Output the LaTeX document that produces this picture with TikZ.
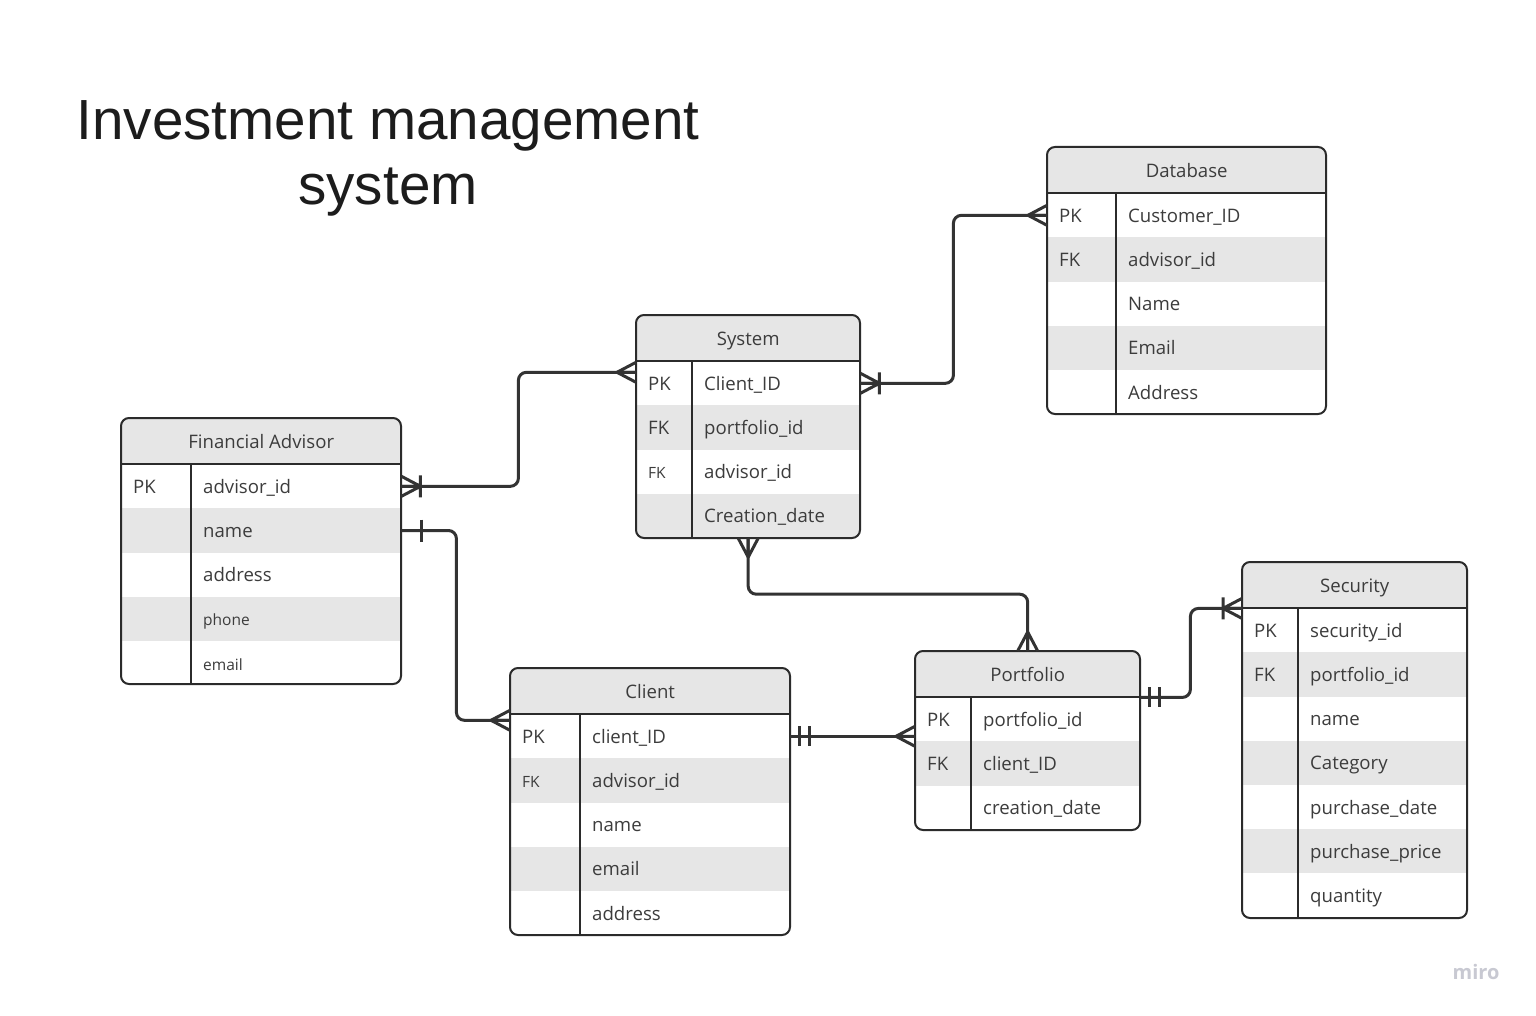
\documentclass[tikz,border=0pt]{standalone}
\usepackage{fontspec}
\setmainfont{Open Sans}
\newfontfamily\titlefont{Liberation Sans}

\definecolor{erline}{HTML}{333333}
\definecolor{erframe}{HTML}{2B2B2B}
\definecolor{rowgray}{HTML}{E6E6E6}
\definecolor{ertext}{HTML}{3C3C3C}
\definecolor{titleblack}{HTML}{1C1C1C}
\definecolor{mirogray}{HTML}{C8C9D2}

\newcommand{\smalltext}{\fontsize{15.5}{18}\selectfont}

\tikzset{
	frame line/.style={draw=erframe, line width=2pt},
	head box/.style={rectangle, fill=rowgray, minimum height=46pt, inner sep=0pt},
	row box/.style={rectangle, minimum height=44.2pt, inner sep=0pt},
	cell text/.style={anchor=base west, inner sep=0pt, text=ertext, font=\fontsize{18.6}{22}\selectfont},
	head text/.style={anchor=base, inner sep=0pt, text=ertext, font=\fontsize{18.6}{22}\selectfont},
	title text/.style={align=center, inner sep=0pt, text=titleblack, font=\titlefont\fontsize{56.6}{65}\selectfont},
	link/.style={draw=erline, line width=3pt, rounded corners=8pt},
	pics/crow foot/.style={code={\draw[link, sharp corners, line join=round] (0,-10) -- (19,0) -- (0,10) (0,0) -- (19,0);}},
	pics/crow bar/.style={code={\draw[link, sharp corners, line join=round] (0,-10) -- (19,0) -- (0,10) (0,0) -- (19,0) (19,-11) -- (19,11);}},
	pics/one bar/.style={code={\draw[link] (20,-11) -- (20,11);}},
	pics/two bars/.style={code={\draw[link] (9,-10) -- (9,10) (19,-10) -- (19,10);}}
}

% #1 name, #2 left, #3 top, #4 width, #5 key column, #6 height, #7 title, #8 rows
\newcommand{\ertable}[8]{%
	\begin{scope}
		\clip[rounded corners=8pt] (#2,#3) rectangle ++(#4,#6);
		\node[head box, minimum width=#4pt, anchor=north west] (#1) at (#2,#3) {};
		\foreach \k/\f/\c [count=\i] in {#8} {
			\node[row box, fill=\c, minimum width=#4pt, anchor=north west] (#1-\i) at (#2,{#3+46+(\i-1)*44.2}) {};
			\node[cell text] at ([xshift=12pt,yshift=-7pt]#1-\i.west) {\k};
			\node[cell text] at ([xshift=#5pt+12pt,yshift=-7pt]#1-\i.west) {\f};
		}
	\end{scope}
	\node[head text] at ([yshift=-7pt]#1.center) {#7};
	\draw[frame line, rounded corners=8pt] (#2,#3) rectangle ++(#4,#6);
	\draw[frame line] (#1.south west) -- (#1.south east);
	\draw[frame line] ([xshift=#5pt]#1.south west) -- ++(0,{#6-46});
}

\begin{document}
\begin{tikzpicture}[x=1pt,y=-1pt]
	\fill[white] (0,0) rectangle (1536,1016);
	\useasboundingbox (0,0) rectangle (1536,1016);
	
	\node[title text, anchor=north] (title) at (388,100) {Investment management\\system};
	
	\ertable{fa}{121}{418}{280}{70}{266}{Financial Advisor}{PK/advisor\_id/white, /name/rowgray, /address/white, /{\smalltext phone}/rowgray, /{\smalltext email}/white}
	\ertable{sys}{636}{315}{224}{56}{223}{System}{PK/Client\_ID/white, FK/portfolio\_id/rowgray, {\smalltext FK}/advisor\_id/white, /Creation\_date/rowgray}
	\ertable{db}{1047}{147}{279}{69}{267}{Database}{PK/Customer\_ID/white, FK/advisor\_id/rowgray, /Name/white, /Email/rowgray, /Address/white}
	\ertable{cl}{510}{668}{280}{70}{267}{Client}{PK/client\_ID/white, {\smalltext FK}/advisor\_id/rowgray, /name/white, /email/rowgray, /address/white}
	\ertable{pf}{915}{651}{225}{56}{179}{Portfolio}{PK/portfolio\_id/white, FK/client\_ID/rowgray, /creation\_date/white}
	\ertable{sec}{1242}{562}{225}{56}{356}{Security}{PK/security\_id/white, FK/portfolio\_id/rowgray, /name/white, /Category/rowgray, /purchase\_date/white, /purchase\_price/rowgray, /quantity/white}
	
	% relationships
	\draw[link] (fa-1.east) -- ++(117,0) |- ([yshift=11pt]sys-1.west);
	\draw[link] (sys-1.east) -- ++(93,0) |- (db-1.west);
	\draw[link] (fa-2.east) -- ++(55,0) |- ([yshift=16pt]cl-1.west);
	\draw[link] (cl-1.east) -- (cl-1.east -| pf-1.west);
	\draw[link] (sys-4.south) -- ++(0,56) -| (pf.north);
	\draw[link] (pf.south east) -- ++(50,0) |- (sec.south west);
	
	\pic at (fa-1.east) {crow bar};
	\pic[rotate=180] at ([yshift=11pt]sys-1.west) {crow foot};
	\pic at (sys-1.east) {crow bar};
	\pic[rotate=180] at (db-1.west) {crow foot};
	\pic at (fa-2.east) {one bar};
	\pic[rotate=180] at ([yshift=16pt]cl-1.west) {crow foot};
	\pic at (cl-1.east) {two bars};
	\pic[rotate=180] at (cl-1.east -| pf-1.west) {crow foot};
	\pic[rotate=-90] at (sys-4.south) {crow foot};
	\pic[rotate=90] at (pf.north) {crow foot};
	\pic at (pf.south east) {two bars};
	\pic[rotate=180] at (sec.south west) {crow bar};
	
	\node[anchor=base, inner sep=0pt, text=mirogray, font=\bfseries\fontsize{20}{24}\selectfont] (miro) at (1476,979) {miro};
\end{tikzpicture}
\end{document}
